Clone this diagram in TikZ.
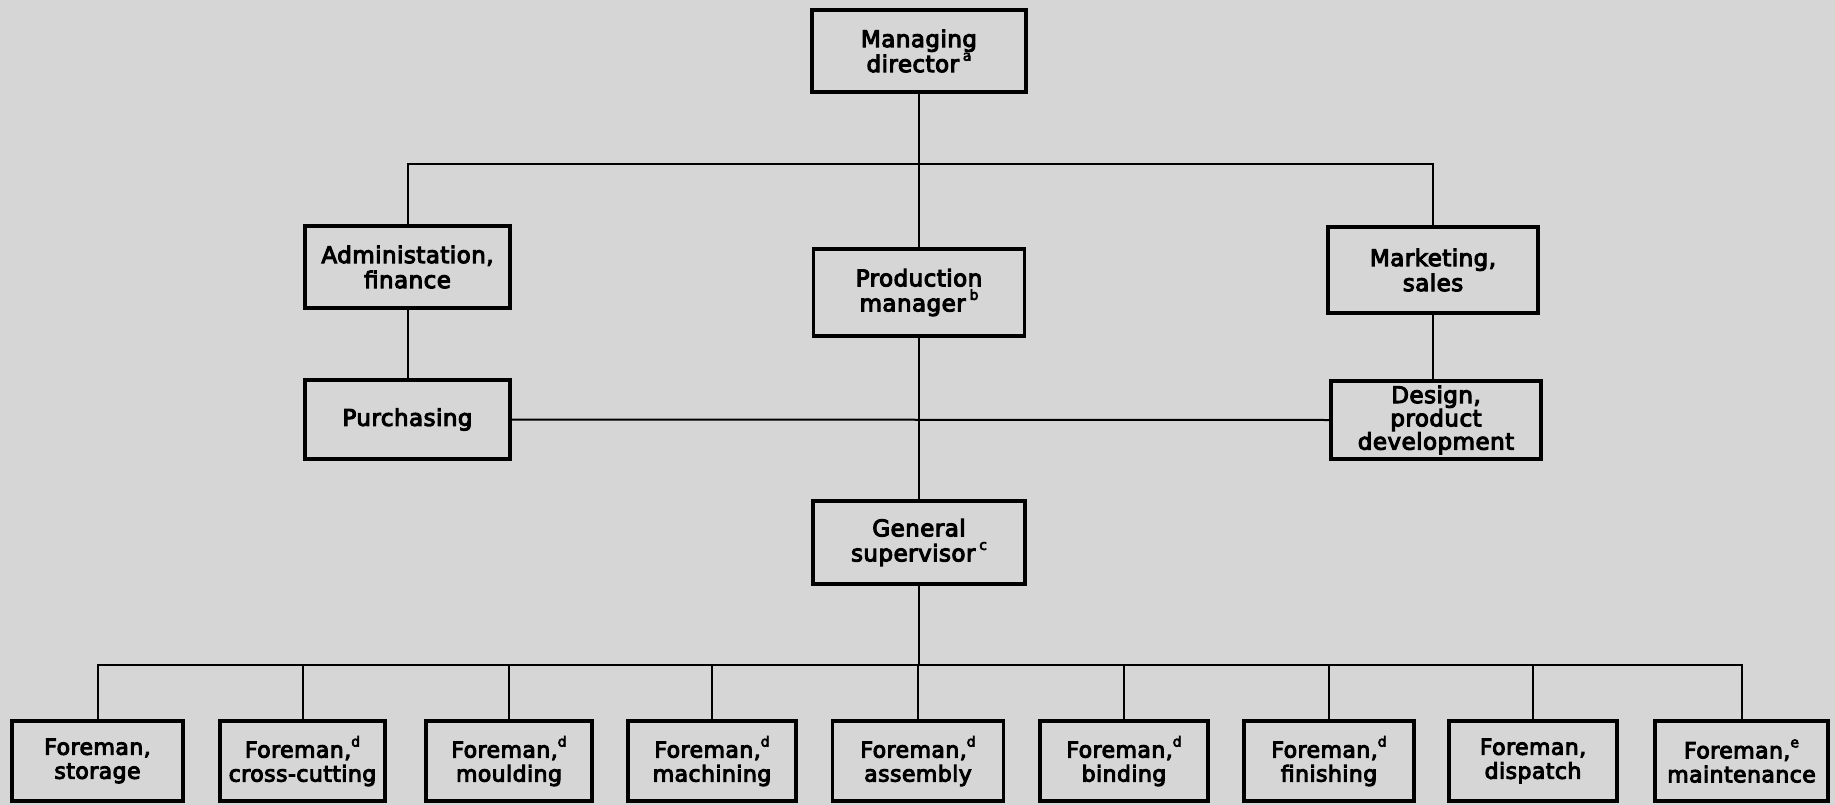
\documentclass[tikz,border=0pt]{standalone}
\usepackage{fontspec}
\setmainfont{DejaVu Sans}
\newfontfamily\chartfont{DejaVu Sans}[RawFeature={embolden=4.5}, LetterSpace=2]
\newcommand{\supmark}[1]{\raisebox{0.5em}{\fontsize{14}{14}\selectfont #1}}
\definecolor{paper}{RGB}{214,214,214}
\tikzset{
  box/.style={draw=black, line width=3.5pt, fill=paper, inner sep=0pt, align=center,
    font=\chartfont\fontsize{23}{25}\selectfont, text=black},
  fbox/.style={box, font=\chartfont\fontsize{22}{24}\selectfont, minimum height=80pt},
  link/.style={draw=black, line width=2pt},
}
\begin{document}
\begin{tikzpicture}[x=1pt,y=-1pt]
\fill[paper] (0,0) rectangle (1835,805);
\useasboundingbox (0,0) rectangle (1835,805);

% upper levels
\node[box, minimum width=214pt, minimum height=82pt] (md) at (919,51) {Managing\\director\,\supmark{a}};
\node[box, minimum width=205pt, minimum height=82pt] (adm) at (407.5,267) {Administation,\\finance};
\node[box, minimum width=211pt, minimum height=87pt] (pm) at (919,292.5) {Production\\manager\,\supmark{b}};
\node[box, minimum width=210pt, minimum height=86pt] (mkt) at (1433,270) {Marketing,\\sales};
\node[box, minimum width=205pt, minimum height=79pt] (pur) at (407.5,419.5) {Purchasing};
\node[box, minimum width=210pt, minimum height=78pt, font=\chartfont\fontsize{23}{21}\selectfont] (des) at (1436,420) {Design,\\product\\development};
\node[box, minimum width=212pt, minimum height=83pt] (gs) at (919,542.5) {General\\supervisor\,\supmark{c}};

% foremen
\node[fbox, minimum width=171pt] (f1) at (97.5,761) {Foreman,\\storage};
\node[fbox, minimum width=165pt] (f2) at (302.5,761) {Foreman,\supmark{d}\\cross-cutting};
\node[fbox, minimum width=166pt] (f3) at (509,761) {Foreman,\supmark{d}\\moulding};
\node[fbox, minimum width=168pt] (f4) at (712,761) {Foreman,\supmark{d}\\machining};
\node[fbox, minimum width=171pt] (f5) at (918,761) {Foreman,\supmark{d}\\assembly};
\node[fbox, minimum width=168pt] (f6) at (1124,761) {Foreman,\supmark{d}\\binding};
\node[fbox, minimum width=170pt] (f7) at (1329,761) {Foreman,\supmark{d}\\finishing};
\node[fbox, minimum width=168pt] (f8) at (1533,761) {Foreman,\\dispatch};
\node[fbox, minimum width=173pt] (f9) at (1741.5,761) {Foreman,\supmark{e}\\maintenance};

\coordinate (busT) at (919,164);
\coordinate (busB) at (919,665);

% connectors
\draw[link] (md.south) -- (pm.north);
\draw[link] (adm.north) |- (busT) -| (mkt.north);
\draw[link] (adm.south) -- (pur.north);
\draw[link] (mkt.south) -- (mkt.south |- des.north);
\draw[link] (pur.east) -- (des.west);
\draw[link] (pm.south) -- (gs.north);
\draw[link] (gs.south) -- (busB);
\draw[link] (f1.north) |- (busB) -| (f9.north);
\foreach \n in {f2,f3,f4,f5,f6,f7,f8} {
  \draw[link] (\n.north) -- (\n.north |- busB);
}
\end{tikzpicture}
\end{document}
